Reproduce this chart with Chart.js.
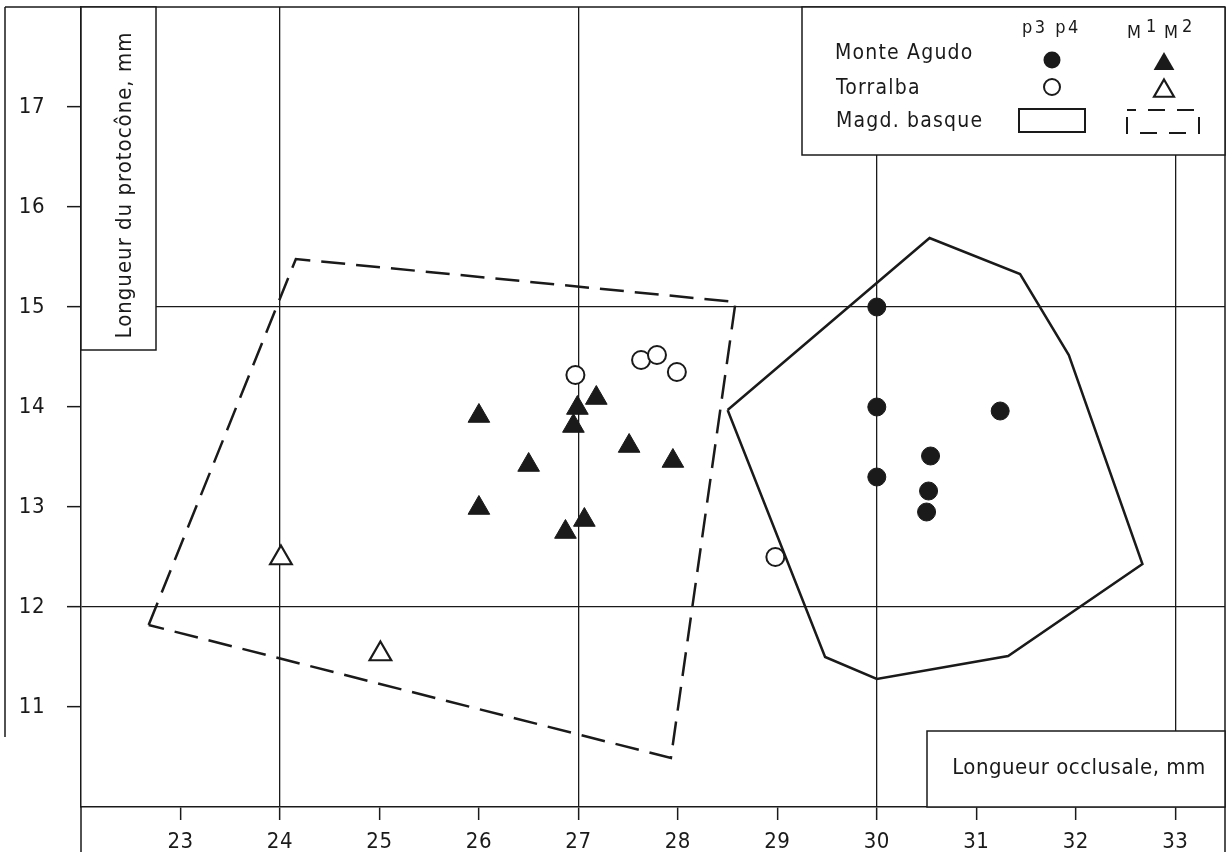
<!DOCTYPE html>
<html>
<head>
<meta charset="utf-8">
<script src="https://cdn.jsdelivr.net/npm/chart.js@4/dist/chart.umd.min.js"></script>
<style>
  html, body { margin: 0; padding: 0; background: #fff; }
  #wrap { width: 1232px; height: 852px; }
</style>
</head>
<body>
<div id="wrap"><canvas id="chart" width="1232" height="852"></canvas></div>
<script>
// axis ticks and grid
const xTicks = [23, 24, 25, 26, 27, 28, 29, 30, 31, 32, 33];
const yTicks = [11, 12, 13, 14, 15, 16, 17];
const xGrid = [24, 27, 30, 33];
const yGrid = [12, 15];

// Monte Agudo p3 p4 (filled circles)
const maP34X = [30.0, 30.0, 30.0, 30.54, 30.52, 30.5, 31.24];
const maP34Y = [15.0, 14.0, 13.3, 13.51, 13.16, 12.95, 13.96];

// Monte Agudo M1 M2 (filled triangles)
const maM12X = [26.0, 26.0, 26.5, 26.87, 27.06, 26.99, 26.95, 27.18, 27.51, 27.95];
const maM12Y = [13.91, 12.99, 13.42, 12.75, 12.87, 13.99, 13.81, 14.09, 13.61, 13.46];

// Torralba p3 p4 (open circles)
const torP34X = [26.97, 27.63, 27.79, 27.99, 28.98];
const torP34Y = [14.32, 14.47, 14.52, 14.35, 12.5];

// Torralba M1 M2 (open triangles)
const torM12X = [24.01, 25.01];
const torM12Y = [12.49, 11.53];

// Magd. basque outlines (closed polygons)
const magP34X = [28.5, 30.53, 31.44, 31.93, 32.67, 31.32, 30.0, 29.48, 28.5];
const magP34Y = [13.97, 15.69, 15.33, 14.52, 12.43, 11.51, 11.28, 11.5, 13.97];
const magM12X = [22.68, 24.16, 28.58, 27.93, 22.68];
const magM12Y = [11.82, 15.48, 15.05, 10.49, 11.82];

const ink = '#1a1a1a';
const fontFam = '"DejaVu Sans Condensed", "DejaVu Sans", sans-serif';

function pts(xs, ys) { return xs.map((x, i) => ({ x: x, y: ys[i] })); }

function drawCircle(ctx, x, y, r, filled) {
  ctx.beginPath();
  ctx.arc(x, y, r, 0, Math.PI * 2);
  if (filled) { ctx.fillStyle = ink; ctx.fill(); }
  else { ctx.fillStyle = '#fff'; ctx.fill(); ctx.lineWidth = 2; ctx.strokeStyle = ink; ctx.stroke(); }
}
function drawTri(ctx, x, y, r, filled) {
  ctx.beginPath();
  for (let k = 0; k < 3; k++) {
    const a = k * 2 * Math.PI / 3;
    const px = x + Math.sin(a) * r, py = y - Math.cos(a) * r;
    if (k === 0) ctx.moveTo(px, py); else ctx.lineTo(px, py);
  }
  ctx.closePath();
  if (filled) { ctx.fillStyle = ink; ctx.fill(); }
  else { ctx.fillStyle = '#fff'; ctx.fill(); ctx.lineWidth = 2.2; ctx.strokeStyle = ink; ctx.stroke(); }
}

const framePlugin = {
  id: 'frame',
  beforeDraw(chart) {
    chart.ctx.letterSpacing = '0.5px';
  },
  afterDraw(chart) {
    const ctx = chart.ctx;
    const a = chart.chartArea;
    ctx.save();
    ctx.strokeStyle = ink;
    ctx.lineWidth = 1.5;
    ctx.setLineDash([]);
    // outer frame lines
    ctx.beginPath();
    ctx.moveTo(5, a.top); ctx.lineTo(a.right, a.top);
    ctx.moveTo(a.right, a.top); ctx.lineTo(a.right, 852);
    ctx.moveTo(a.left, a.bottom); ctx.lineTo(a.left, 852);
    ctx.moveTo(5, a.top); ctx.lineTo(5, 737);
    ctx.stroke();

    // y-axis title box
    ctx.fillStyle = '#fff';
    ctx.fillRect(a.left, a.top, 75, 343);
    ctx.strokeRect(a.left, a.top, 75, 343);
    // x-axis title box
    ctx.fillRect(927, 731, a.right - 927, a.bottom - 731);
    ctx.strokeRect(927, 731, a.right - 927, a.bottom - 731);
    // legend box
    ctx.fillRect(802, a.top, a.right - 802, 148);
    ctx.strokeRect(802, a.top, a.right - 802, 148);

    ctx.fillStyle = ink;
    ctx.font = '22px ' + fontFam;
    ctx.textAlign = 'center';
    ctx.textBaseline = 'alphabetic';
    ctx.letterSpacing = '0.5px';
    ctx.fillText('Longueur occlusale, mm', 1079, 774);

    ctx.save();
    ctx.letterSpacing = '1px';
    ctx.translate(131, 185);
    ctx.rotate(-Math.PI / 2);
    ctx.fillText('Longueur du protocône, mm', 0, 0);
    ctx.restore();

    // legend
    ctx.textAlign = 'left';
    ctx.font = '21px ' + fontFam;
    ctx.letterSpacing = '1.2px';
    ctx.fillText('Monte Agudo', 835, 59);
    ctx.fillText('Torralba', 836, 94);
    ctx.fillText('Magd. basque', 836, 127);

    ctx.font = '18px ' + fontFam;
    ctx.letterSpacing = '2.5px';
    ctx.fillText('p3 p4', 1022, 33);
    ctx.letterSpacing = '0px';
    ctx.fillText('M', 1127, 38);
    ctx.fillText('1', 1146, 32);
    ctx.fillText('M', 1164, 38);
    ctx.fillText('2', 1182, 32);

    drawCircle(ctx, 1052, 60, 8.5, true);
    drawTri(ctx, 1164, 64, 12, true);
    drawCircle(ctx, 1052, 87, 8, false);
    drawTri(ctx, 1164, 91, 11.5, false);

    ctx.lineWidth = 2;
    ctx.strokeRect(1019, 109, 66, 23);
    ctx.setLineDash([17, 12]);
    ctx.lineDashOffset = 8;
    ctx.strokeRect(1127, 110, 72, 23);
    ctx.restore();
  }
};

const circleBase = { type: 'scatter', showLine: false, pointStyle: 'circle', pointRadius: 9, pointHoverRadius: 9 };
const triBase = { type: 'scatter', showLine: false, pointStyle: 'triangle', pointRadius: 12.5, pointHoverRadius: 12.5 };

new Chart(document.getElementById('chart'), {
  type: 'scatter',
  data: {
    datasets: [
      { label: 'Magd. basque p3 p4', type: 'line', data: pts(magP34X, magP34Y), showLine: true, fill: false,
        borderColor: ink, borderWidth: 2.5, pointRadius: 0, tension: 0, borderJoinStyle: 'miter' },
      { label: 'Magd. basque M1 M2', type: 'line', data: pts(magM12X, magM12Y), showLine: true, fill: false,
        borderColor: ink, borderWidth: 2.5, borderDash: [24, 11], pointRadius: 0, tension: 0, borderJoinStyle: 'miter' },
      Object.assign({ label: 'Monte Agudo p3 p4', data: pts(maP34X, maP34Y),
        backgroundColor: ink, borderColor: ink, borderWidth: 1 }, circleBase),
      Object.assign({ label: 'Monte Agudo M1 M2', data: pts(maM12X, maM12Y),
        backgroundColor: ink, borderColor: ink, borderWidth: 1 }, triBase),
      Object.assign({ label: 'Torralba p3 p4', data: pts(torP34X, torP34Y),
        backgroundColor: '#fff', borderColor: ink, borderWidth: 2 }, circleBase),
      Object.assign({ label: 'Torralba M1 M2', data: pts(torM12X, torM12Y),
        backgroundColor: '#fff', borderColor: ink, borderWidth: 2.2 }, triBase)
    ]
  },
  options: {
    responsive: false,
    animation: false,
    layout: { autoPadding: false, padding: { top: 7, right: 7, left: 0, bottom: 0 } },
    plugins: { legend: { display: false }, tooltip: { enabled: false } },
    scales: {
      x: {
        type: 'linear', min: 22, max: 33.5,
        afterBuildTicks: s => { s.ticks = xTicks.map(v => ({ value: v })); },
        afterFit: s => { s.height = 45; s.paddingLeft = 0; s.paddingRight = 0; },
        grid: {
          color: c => (c.tick && xGrid.includes(c.tick.value)) ? ink : 'rgba(0,0,0,0)',
          lineWidth: 1.3, tickLength: 13, tickColor: ink, tickWidth: 1.5
        },
        border: { color: ink, width: 1.5 },
        ticks: { color: ink, font: { family: fontFam, size: 22 }, padding: 9, maxRotation: 0, autoSkip: false }
      },
      y: {
        type: 'linear', min: 10, max: 18,
        afterBuildTicks: s => { s.ticks = yTicks.map(v => ({ value: v })); },
        afterFit: s => { s.width = 81; s.paddingTop = 0; s.paddingBottom = 0; },
        grid: {
          color: c => (c.tick && yGrid.includes(c.tick.value)) ? ink : 'rgba(0,0,0,0)',
          lineWidth: 1.3, tickLength: 14, tickColor: ink, tickWidth: 1.5
        },
        border: { color: ink, width: 1.5 },
        ticks: { color: ink, font: { family: fontFam, size: 22 }, padding: 22, autoSkip: false }
      }
    }
  },
  plugins: [framePlugin]
});
</script>
</body>
</html>
